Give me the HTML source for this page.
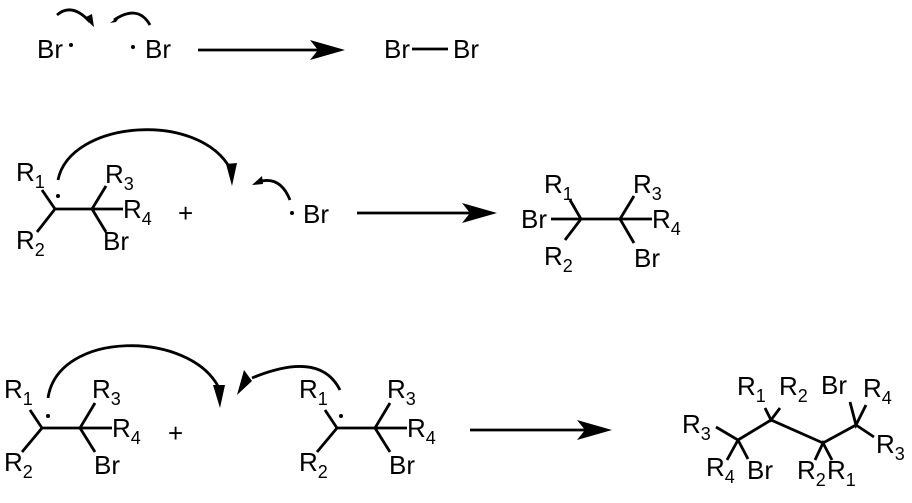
<!DOCTYPE html>
<html><head><style>
html,body{margin:0;padding:0;background:#fff;}
svg{display:block;}
text{font-family:"Liberation Sans",Arial,sans-serif;font-size:26px;fill:#000;}
tspan.s{font-size:18px;}
</style></head><body>
<svg width="912" height="503" viewBox="0 0 912 503" xmlns="http://www.w3.org/2000/svg">
<g stroke="#000" stroke-width="2.8" fill="none" stroke-linecap="butt">
<line x1="198" y1="50" x2="318" y2="50"/>
<line x1="412" y1="49" x2="448" y2="49"/>
<path d="M57,15 Q72,2 90,22"/>
<path d="M150,25 Q138,4 114,20"/>
<path d="M42,190 L55,209 L37,232 M55,209 L92,209 L106,186 M92,209 L123,209 M92,209 L106,232"/>
<line x1="357" y1="213" x2="478" y2="213"/>
<path d="M58,180 C70,120 200,110 231,170"/>
<path d="M290,200 Q280,175 258,182"/>
<path d="M551,219 L620,219 L652,219 M570,200 L581,219 L565,240 M634,196 L620,219 L634,243"/>
<path d="M30,410 L42,428 L22,452 M42,428 L80,428 L95,403 M80,428 L112,428 M80,428 L95,452"/>
<path d="M325,410 L337,428 L317,452 M337,428 L375,428 L390,403 M375,428 L407,428 M375,428 L390,452"/>
<path d="M48,398 C58,330 190,330 219,388"/>
<path d="M340,390 Q320,350 252,378"/>
<line x1="470" y1="430" x2="595" y2="430"/>
<path d="M716,427 L738,440 L727,460 M738,440 L748,459 M738,440 L771,420 L823,443 L856,425 M765,408 L771,420 L780,408 M815,460 L823,443 L832,460 M850,402 L856,425 L866,405 M856,425 L874,437"/>
</g>
<g fill="#000" stroke="none">
<polygon points="345,50 310,40 318,50 310,60"/>
<polygon points="497,213 462,203 470,213 462,223"/>
<polygon points="612,430 577,420 585,430 577,440"/>
<polygon points="94,27 84,18 92,14"/>
<polygon points="110,23 122,14 116,22"/>
<polygon points="232,186 226,164 237,163"/>
<polygon points="252,185 262,176 263,184"/>
<polygon points="220,408 213,385 225,385"/>
<polygon points="237,395 244,370 252,381"/>
<circle cx="71" cy="45" r="2"/><circle cx="133" cy="47" r="2"/>
<circle cx="58" cy="196" r="2"/><circle cx="292" cy="213" r="2"/>
<circle cx="48" cy="416" r="2"/><circle cx="341" cy="416" r="2"/>
</g>
<text x="37" y="58">Br</text>
<text x="145" y="58">Br</text>
<text x="384" y="58">Br</text>
<text x="453" y="58">Br</text>
<text x="16" y="181">R<tspan class="s" dy="7">1</tspan></text>
<text x="105" y="183">R<tspan class="s" dy="7">3</tspan></text>
<text x="123" y="218">R<tspan class="s" dy="7">4</tspan></text>
<text x="16" y="249">R<tspan class="s" dy="7">2</tspan></text>
<text x="103" y="250">Br</text>
<text x="178" y="222">+</text>
<text x="303" y="223">Br</text>
<text x="521" y="228">Br</text>
<text x="544" y="193">R<tspan class="s" dy="7">1</tspan></text>
<text x="633" y="193">R<tspan class="s" dy="7">3</tspan></text>
<text x="652" y="228">R<tspan class="s" dy="7">4</tspan></text>
<text x="544" y="265">R<tspan class="s" dy="7">2</tspan></text>
<text x="634" y="267">Br</text>
<text x="4" y="398">R<tspan class="s" dy="7">1</tspan></text>
<text x="92" y="398">R<tspan class="s" dy="7">3</tspan></text>
<text x="112" y="437">R<tspan class="s" dy="7">4</tspan></text>
<text x="4" y="471">R<tspan class="s" dy="7">2</tspan></text>
<text x="94" y="474">Br</text>
<text x="168" y="442">+</text>
<text x="299" y="398">R<tspan class="s" dy="7">1</tspan></text>
<text x="387" y="398">R<tspan class="s" dy="7">3</tspan></text>
<text x="407" y="437">R<tspan class="s" dy="7">4</tspan></text>
<text x="299" y="471">R<tspan class="s" dy="7">2</tspan></text>
<text x="389" y="474">Br</text>
<text x="682" y="433">R<tspan class="s" dy="7">3</tspan></text>
<text x="706" y="476">R<tspan class="s" dy="7">4</tspan></text>
<text x="747" y="479">Br</text>
<text x="737" y="395">R<tspan class="s" dy="7">1</tspan></text>
<text x="779" y="395">R<tspan class="s" dy="7">2</tspan></text>
<text x="797" y="479">R<tspan class="s" dy="7">2</tspan></text>
<text x="827" y="479">R<tspan class="s" dy="7">1</tspan></text>
<text x="821" y="394">Br</text>
<text x="863" y="397">R<tspan class="s" dy="7">4</tspan></text>
<text x="876" y="453">R<tspan class="s" dy="7">3</tspan></text>
</svg>
</body></html>
